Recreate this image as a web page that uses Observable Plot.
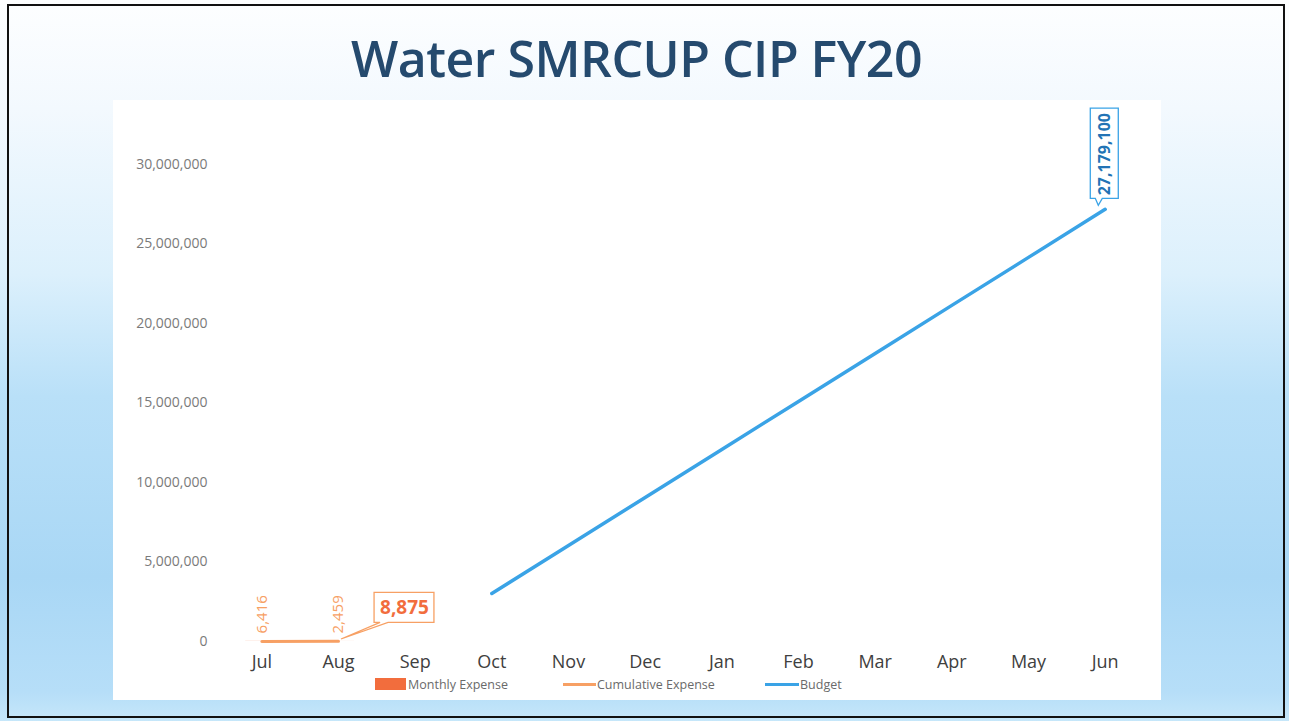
<!DOCTYPE html>
<html>
<head>
<meta charset="utf-8">
<script src="https://cdn.jsdelivr.net/npm/d3@7"></script>
<script src="https://cdn.jsdelivr.net/npm/@observablehq/plot@0.6"></script>
<style>
  html, body { margin: 0; padding: 0; }
  body { width: 1289px; height: 721px; overflow: hidden; font-family: "Open Sans", Lato, sans-serif; }
  #slide { position: absolute; left: 0; top: 0; width: 1289px; height: 721px;
    background: linear-gradient(to bottom, #fdfeff 0%, #f3f9fe 15%, #dcf0fc 38%, #b9e0f8 55%, #a9d7f5 80%, #b6def8 96%, #c6e7fa 100%); }
  #frame { position: absolute; left: 7px; top: 4px; width: 1274px; height: 710px; border: 2px solid #111; box-sizing: content-box; }
  #panel { position: absolute; left: 113px; top: 100px; width: 1048px; height: 600px; background: #fff; }
  #title { position: absolute; left: -8px; top: 24px; width: 1289px; text-align: center; font-family: "Open Sans", sans-serif;
    font-size: 50px; font-weight: 600; color: #254a6e; letter-spacing: -0.5px; }
  #chart { position: absolute; left: 113px; top: 100px; }
  .leg { position: absolute; top: 676px; font-size: 12.5px; color: #6a6a6a; font-family: "Open Sans", sans-serif; white-space: nowrap; }
  .sw { position: absolute; }
</style>
</head>
<body>
<div id="slide"></div>
<div id="panel"></div>
<div id="frame"></div>
<div id="title">Water SMRCUP CIP FY20</div>
<div id="chart"></div>
<div id="legend"></div>
<script>
const months = ["Jul","Aug","Sep","Oct","Nov","Dec","Jan","Feb","Mar","Apr","May","Jun"];
const monthlyExpense = [6416, 2459];
const cumulativeExpense = [6416, 8875];
const budgetMonths = ["Oct","Nov","Dec","Jan","Feb","Mar","Apr","May","Jun"];
const budgetValues = [3019900, 6039800, 9059700, 12079600, 15099500, 18119400, 21139300, 24159200, 27179100];
const yTicks = [0, 5000000, 10000000, 15000000, 20000000, 25000000, 30000000];
const legendItems = ["Monthly Expense", "Cumulative Expense", "Budget"];

const colBar = "#f26d3d", colCum = "#f7a064", colBudget = "#3aa3e6";
const idx = m => months.indexOf(m);

const monthlyData = monthlyExpense.map((v, i) => ({i, v}));
const cumData = cumulativeExpense.map((v, i) => ({i, v}));
const budgetData = budgetMonths.map((m, k) => ({i: idx(m), v: budgetValues[k]}));
const fmt = d3.format(",");

const plot = Plot.plot({
  width: 1048, height: 580,
  marginLeft: 110, marginRight: 18, marginTop: 64, marginBottom: 39,
  style: {background: "transparent", fontFamily: "'Open Sans', sans-serif"},
  x: {type: "linear", domain: [-0.5, 11.5], label: null},
  y: {domain: [0, 30000000], label: null},
  marks: [
    Plot.axisX({ticks: d3.range(12), tickFormat: i => months[i], tickSize: 0, tickPadding: 14, fontSize: 18, fontWeight: 500, color: "#404040", label: null}),
    Plot.axisY({ticks: yTicks, tickFormat: d3.format(","), tickSize: 0, tickPadding: 16, fontSize: 14, letterSpacing: "0.6px", color: "#7a7a7a", label: null}),
    Plot.rectY(monthlyData, {x1: d => d.i - 0.21, x2: d => d.i + 0.21, y: "v", fill: colBar}),
    Plot.line(cumData, {x: "i", y: "v", stroke: colCum, strokeWidth: 3}),
    Plot.line(budgetData, {x: "i", y: "v", stroke: colBudget, strokeWidth: 3.5}),
    Plot.text(monthlyData, {x: "i", y: "v", text: d => fmt(d.v), rotate: -90, textAnchor: "start", dy: -8, dx: 0, fill: colCum, fontSize: 15}),
    Plot.text(cumData.slice(-1), {x: "i", y: "v", text: d => fmt(d.v), dx: 66, dy: -33, fill: colBar, fontSize: 19, fontWeight: "bold", className: "callout-cum"}),
    Plot.text(budgetData.slice(-1), {x: "i", y: "v", text: d => fmt(d.v), rotate: -90, textAnchor: "start", dy: -14, fill: "#2273b5", fontSize: 16, fontWeight: "bold", className: "callout-bud"})
  ]
});
document.getElementById("chart").appendChild(plot);

// callout boxes drawn around the library-rendered labels
const svg = d3.select(plot);
const sRect = plot.getBoundingClientRect();
function boxFor(sel, pad, stroke, pointer) {
  const t = plot.querySelector(sel + " text");
  if (!t) return;
  const r = t.getBoundingClientRect();
  const x0 = r.left - sRect.left - pad.l, x1 = r.right - sRect.left + pad.r;
  const y0 = r.top - sRect.top - pad.t, y1 = r.bottom - sRect.top + pad.b;
  const p = pointer(x0, x1, y0, y1);
  const path = `M${x0},${y0}H${x1}V${y1}H${p.b2}L${p.px},${p.py}L${p.b1},${y1}H${x0}Z`;
  svg.insert("path", sel).attr("d", path).attr("fill", "#fff").attr("stroke", stroke).attr("stroke-width", 1.3);
}
boxFor(".callout-cum", {l: 6, r: 5, t: 2, b: 2}, colCum, (x0, x1, y0, y1) => ({b1: x0 + 6, b2: x0 + 14, px: 228, py: 539}));
boxFor(".callout-bud", {l: 3, r: 3, t: 5, b: 3}, colBudget, (x0, x1, y0, y1) => ({b1: x0 + 5, b2: x0 + 12, px: x0 + 8, py: y1 + 7}));
["callout-cum", "callout-bud"].forEach(c => { const g = plot.querySelector("." + c); if (g) g.parentNode.appendChild(g); });

// legend
const legend = document.getElementById("legend");
const legDefs = [
  {sw: {left: 375, top: 678, width: 31, height: 12, background: colBar}, text: {left: 408}},
  {sw: {left: 563, top: 683, width: 33, height: 2.5, background: colCum}, text: {left: 597}},
  {sw: {left: 765, top: 683, width: 34, height: 3, background: colBudget}, text: {left: 800}}
];
legendItems.forEach((name, k) => {
  const s = document.createElement("div"); s.className = "sw";
  Object.entries(legDefs[k].sw).forEach(([a, v]) => s.style[a] = typeof v === "number" ? v + "px" : v);
  legend.appendChild(s);
  const t = document.createElement("div"); t.className = "leg"; t.textContent = name;
  t.style.left = legDefs[k].text.left + "px";
  legend.appendChild(t);
});
</script>
</body>
</html>
